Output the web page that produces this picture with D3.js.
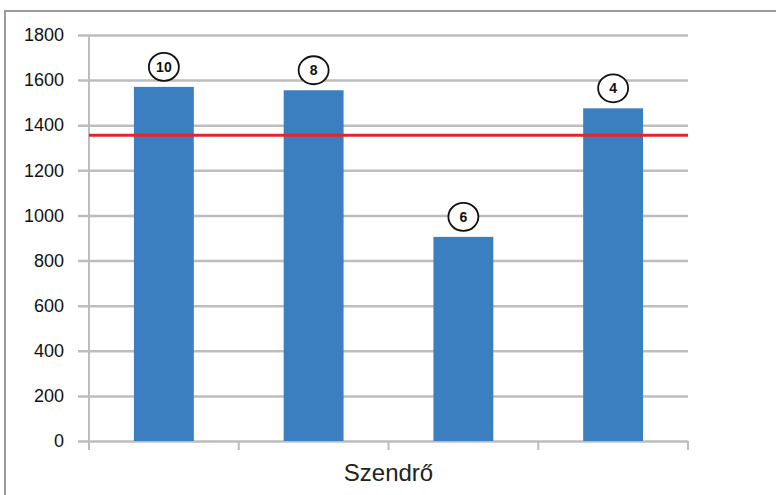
<!DOCTYPE html>
<html><head><meta charset="utf-8">
<script src="https://cdn.jsdelivr.net/npm/d3@7"></script>
<style>body{margin:0;background:#fff}svg{display:block}</style>
</head><body>
<script>
const categories = ["1", "2", "3", "4"];
const values = [1570, 1555, 905, 1475];
const badges = ["10", "8", "6", "4"];
const referenceValue = 1355;
const yTicks = [0, 200, 400, 600, 800, 1000, 1200, 1400, 1600, 1800];
const xTitle = "Szendrő";

(function(){
const W = 776, H = 495;
const svg = d3.select("body").append("svg").attr("width", W).attr("height", H);

// frame
svg.append("path").attr("d", `M5,${H} L5,11 L${W},11`).attr("fill","none")
  .attr("stroke","#9a9a9a").attr("stroke-width",2);

const pL = 89, pR = 688, pT = 35, pB = 441;
const y = d3.scaleLinear().domain([0,1800]).range([pB, pT]);
const x = d3.scaleBand().domain(categories).range([pL, pR]).paddingInner(0.6).paddingOuter(0.3);
const xg = d3.scaleBand().domain(categories).range([pL, pR]);

// gridlines
const yAxis = d3.axisLeft(y).tickValues(yTicks).tickFormat(d3.format("d"))
  .tickSize(-(pR-pL)).tickPadding(25);
const ga = svg.append("g").attr("transform",`translate(${pL},0)`).call(yAxis);
ga.select(".domain").remove();
ga.selectAll(".tick line").attr("x1", -11).attr("stroke","#bdbdbd").attr("stroke-width",2.5);
ga.selectAll(".tick text").attr("font-family","Arial, 'Liberation Sans', sans-serif")
  .attr("font-size",18).attr("fill","#111");

// y axis line
svg.append("line").attr("x1",pL).attr("x2",pL).attr("y1",pT).attr("y2",pB+9)
  .attr("stroke","#bdbdbd").attr("stroke-width",2);

// x axis ticks at group boundaries
const bounds = categories.map(c => xg(c)).concat([pR]);
svg.selectAll(".xt").data(bounds).enter().append("line")
  .attr("x1",d=>d).attr("x2",d=>d).attr("y1",pB).attr("y2",pB+9)
  .attr("stroke","#bdbdbd").attr("stroke-width",2);

// bars
svg.selectAll(".bar").data(values).enter().append("rect")
  .attr("x",(d,i)=>x(categories[i])).attr("width",x.bandwidth())
  .attr("y",d=>y(d)).attr("height",d=>pB-y(d)).attr("fill","#3b7fc0");

// reference line
svg.append("line").attr("x1",pL).attr("x2",pR).attr("y1",y(referenceValue)).attr("y2",y(referenceValue))
  .attr("stroke","#e8242b").attr("stroke-width",3);

// badges
const b = svg.selectAll(".badge").data(values).enter().append("g")
  .attr("transform",(d,i)=>`translate(${x(categories[i])+x.bandwidth()/2},${y(d)-20})`);
b.append("ellipse").attr("rx",15).attr("ry",14).attr("fill","#fff").attr("stroke","#111").attr("stroke-width",1.8);
b.append("text").text((d,i)=>badges[i]).attr("text-anchor","middle").attr("dy","0.36em")
  .attr("font-family","Arial, 'Liberation Sans', sans-serif").attr("font-weight","bold")
  .attr("font-size",14).attr("fill","#111");

// x title
svg.append("text").attr("x",(pL+pR)/2).attr("y",481).attr("text-anchor","middle")
  .attr("font-family","Arial, 'Liberation Sans', sans-serif").attr("font-size",24).attr("fill","#222")
  .text(xTitle);
})();
</script>
</body></html>
